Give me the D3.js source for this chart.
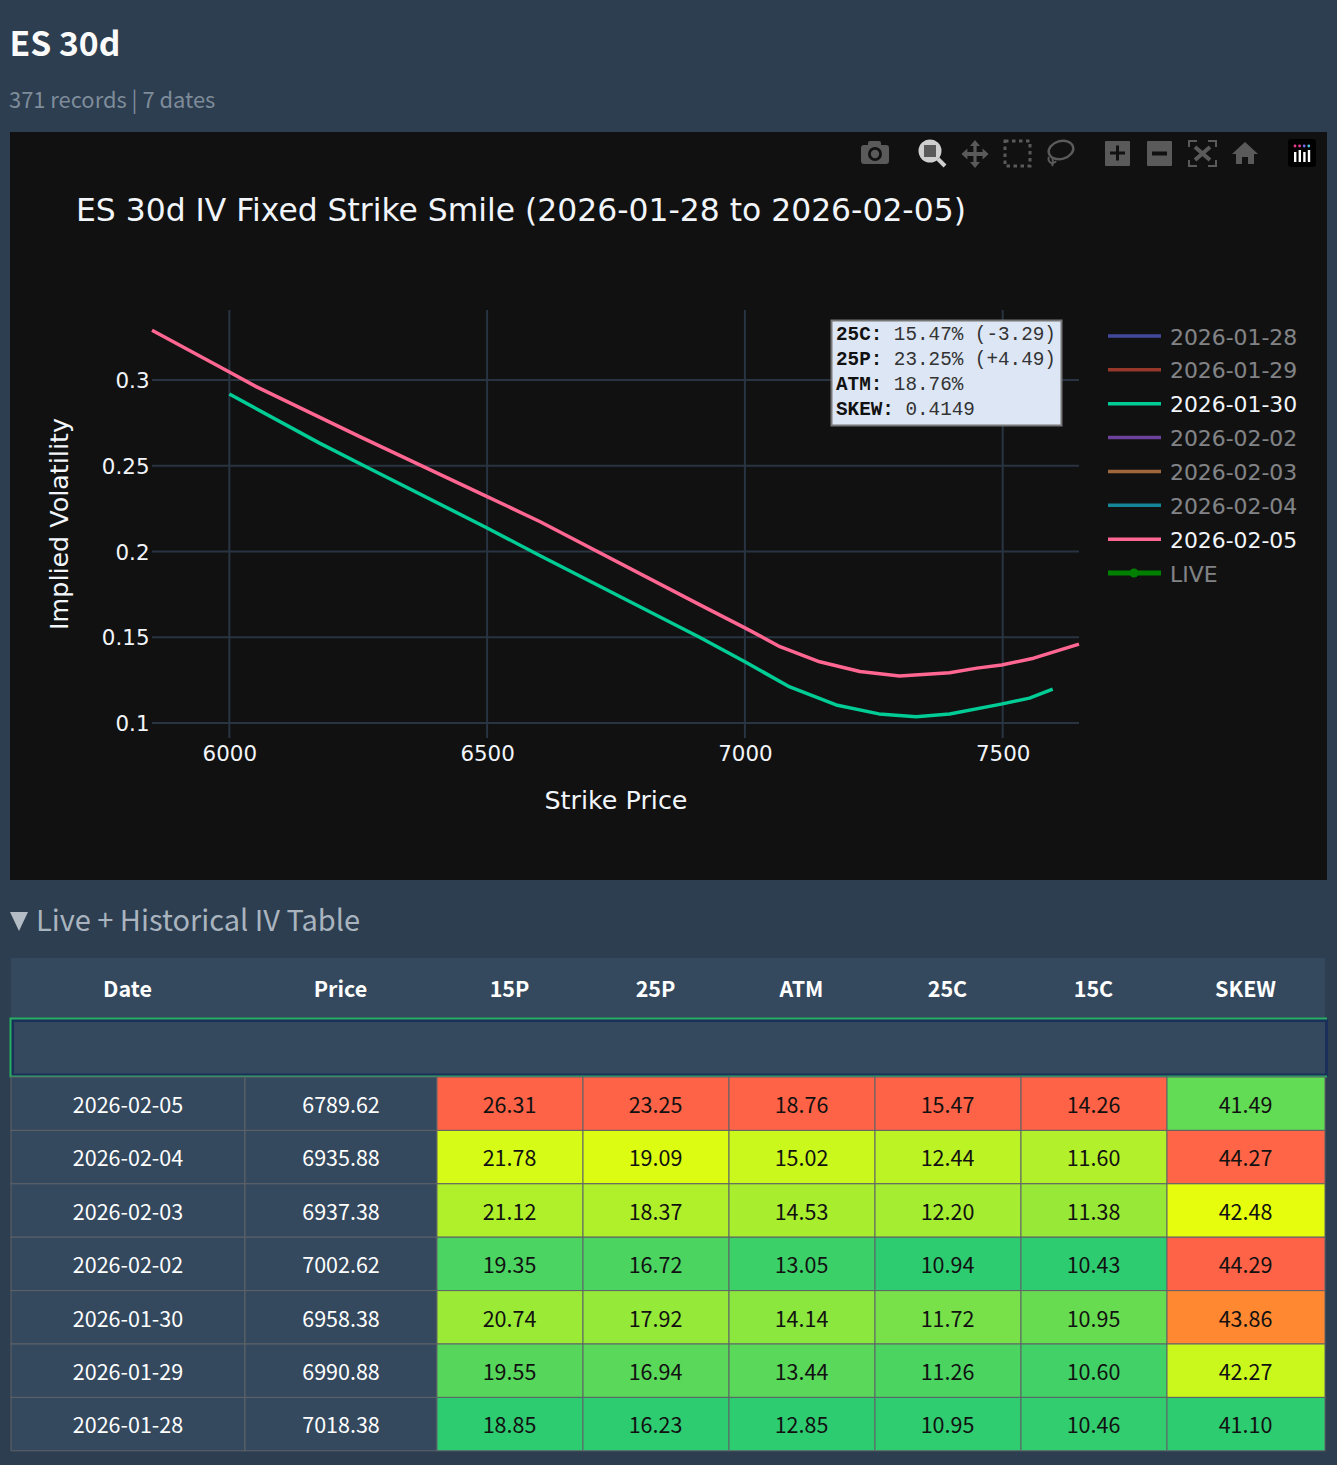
<!DOCTYPE html>
<html>
<head>
<meta charset="utf-8">
<script src="https://cdnjs.cloudflare.com/ajax/libs/d3/7.9.0/d3.min.js"></script>
<style>
html,body{margin:0;padding:0;background:#2c3e50;}
svg{display:block;}
</style>
</head>
<body>
<svg id="page" width="1337" height="1465"></svg>
<script>
// Legend entries and line colours for each session
const sessionDates = ["2026-01-28","2026-01-29","2026-01-30","2026-02-02","2026-02-03","2026-02-04","2026-02-05","LIVE"];
const sessionColors = ["#636efa","#ef553b","#00cc96","#ab63fa","#ffa15a","#19d3f3","#ff6692","#008000"];
const visibleSessions = ["2026-01-30","2026-02-05"];

// Fixed strike smiles
const strikesFeb05 = [5850,6000,6053,6253,6500,6602,6912,7000,7068,7145,7223,7300,7397,7450,7498,7560,7648];
const ivFeb05 = [0.329,0.3047,0.296,0.267,0.232,0.2175,0.169,0.1555,0.1445,0.1357,0.13,0.1274,0.1293,0.132,0.1338,0.1378,0.146];
const strikesJan30 = [6000,6175,6266,6500,6602,6912,7000,7087,7177,7260,7332,7397,7497,7552,7597];
const ivJan30 = [0.2918,0.2632,0.2493,0.2137,0.1977,0.15,0.1357,0.121,0.1105,0.1053,0.1037,0.1053,0.111,0.1145,0.1198];

const xTicks = [6000,6500,7000,7500];
const yTicks = [0.1,0.15,0.2,0.25,0.3];

// Summary box lines: label, value text
const noteLabels = ["25C:","25P:","ATM:","SKEW:"];
const noteValues = ["15.47% (-3.29)","23.25% (+4.49)","18.76%","0.4149"];

// IV table
const tableColumns = ["Date","Price","15P","25P","ATM","25C","15C","SKEW"];
const tableDates = ["2026-02-05","2026-02-04","2026-02-03","2026-02-02","2026-01-30","2026-01-29","2026-01-28"];
const tablePrices = ["6789.62","6935.88","6937.38","7002.62","6958.38","6990.88","7018.38"];
const col15P = [26.31,21.78,21.12,19.35,20.74,19.55,18.85];
const col25P = [23.25,19.09,18.37,16.72,17.92,16.94,16.23];
const colATM = [18.76,15.02,14.53,13.05,14.14,13.44,12.85];
const col25C = [15.47,12.44,12.20,10.94,11.72,11.26,10.95];
const col15C = [14.26,11.60,11.38,10.43,10.95,10.60,10.46];
const colSKEW = [41.49,44.27,42.48,44.29,43.86,42.27,41.10];
const heatColumns = [col15P,col25P,colATM,col25C,col15C,colSKEW];

const svg = d3.select("#page");
const pageFont = "'Noto Sans CJK SC','Noto Sans',sans-serif";
const plotFont = "'DejaVu Sans',sans-serif";
const monoFont = "'Liberation Mono',monospace";

svg.append("text").attr("x",9.5).attr("y",56).attr("font-family",pageFont).attr("font-weight",700)
  .attr("font-size",33.7).attr("fill","#fafafa").text("ES 30d");
svg.append("text").attr("x",9).attr("y",108).attr("font-family",pageFont)
  .attr("font-size",21.9).attr("fill","#7f8c9a").text("371 records | 7 dates");

// Plot panel
svg.append("rect").attr("x",10).attr("y",132).attr("width",1317).attr("height",748).attr("fill","#111111");

const x = d3.scaleLinear().domain([5850,7648]).range([152,1079]);
const y = d3.scaleLinear().domain([0.1,0.3]).range([723,380]);
const plot = svg.append("g");

const gridColor = "#283442";
plot.append("g").selectAll("line").data(xTicks).join("line")
  .attr("x1",d=>x(d)).attr("x2",d=>x(d)).attr("y1",310).attr("y2",738)
  .attr("stroke",gridColor).attr("stroke-width",2);
plot.append("g").selectAll("line").data(yTicks).join("line")
  .attr("x1",152).attr("x2",1079).attr("y1",d=>y(d)).attr("y2",d=>y(d))
  .attr("stroke",gridColor).attr("stroke-width",2);

const xAxis = plot.append("g").attr("transform","translate(0,739)")
  .call(d3.axisBottom(x).tickValues(xTicks).tickSize(0).tickPadding(7).tickFormat(d3.format("d")));
const yAxis = plot.append("g").attr("transform","translate(151.500,0.800)")
  .call(d3.axisLeft(y).tickValues(yTicks).tickSize(0).tickPadding(2).tickFormat(d=>String(d)));
[xAxis,yAxis].forEach(a=>{
  a.select(".domain").remove();
  a.selectAll("text").attr("font-family",plotFont).attr("font-size",21.4).attr("fill","#f2f5fa");
});

const line = d3.line().x(d=>x(d[0])).y(d=>y(d[1]));
function drawSmile(strikes,ivs,color){
  plot.append("path").datum(d3.zip(strikes,ivs)).attr("d",line)
    .attr("fill","none").attr("stroke",color).attr("stroke-width",3.5).attr("stroke-linejoin","round");
}
drawSmile(strikesJan30,ivJan30,sessionColors[2]);
drawSmile(strikesFeb05,ivFeb05,sessionColors[6]);

svg.append("text").attr("x",76).attr("y",221).attr("font-family",plotFont).attr("font-size",31.4)
  .attr("fill","#f2f5fa").text("ES 30d IV Fixed Strike Smile (2026-01-28 to 2026-02-05)");
svg.append("text").attr("x",616).attr("y",809).attr("text-anchor","middle").attr("font-family",plotFont)
  .attr("font-size",25.4).attr("fill","#f2f5fa").text("Strike Price");
svg.append("text").attr("transform","translate(68,524) rotate(-90)").attr("text-anchor","middle")
  .attr("font-family",plotFont).attr("font-size",25.4).attr("fill","#f2f5fa").text("Implied Volatility");

// Legend
const legendY = d3.scalePoint().domain(sessionDates).range([336,573]);
const legend = svg.append("g").selectAll("g").data(sessionDates).join("g")
  .attr("transform",d=>`translate(0,${legendY(d)})`);
legend.append("line").attr("x1",1108).attr("x2",1161).attr("y1",0).attr("y2",0)
  .attr("stroke",(d,i)=>sessionColors[i]).attr("stroke-width",d=>d==="LIVE"?5:3.5)
  .attr("opacity",d=>visibleSessions.includes(d)?1:d==="LIVE"?1:0.6);
legend.filter(d=>d==="LIVE").append("circle").attr("cx",1134).attr("cy",0).attr("r",4.5).attr("fill",sessionColors[7]);
legend.append("text").attr("x",1170).attr("y",8.500).attr("font-family",plotFont).attr("font-size",21.9)
  .attr("fill","#f2f5fa").attr("opacity",d=>visibleSessions.includes(d)?1:0.5).text(d=>d);

// Summary annotation box
svg.append("rect").attr("x",831.5).attr("y",320.5).attr("width",230).attr("height",105)
  .attr("fill","#dde6f5").attr("stroke","#777").attr("stroke-width",2);
noteLabels.forEach((lab,i)=>{
  const t = svg.append("text").attr("x",836).attr("y",339.5+i*25.3).attr("font-family",monoFont)
    .attr("font-size",19.3).attr("fill","#333").attr("xml:space","preserve");
  t.append("tspan").attr("font-weight",700).attr("fill","#111").text(lab);
  t.append("tspan").text(" "+noteValues[i]);
});

// Modebar icons, drawn as simple glyphs
const bar = svg.append("g").attr("fill","#5a5a5a").attr("stroke","none");
// camera
bar.append("rect").attr("x",861).attr("y",145).attr("width",28).attr("height",19).attr("rx",3);
bar.append("rect").attr("x",868).attr("y",141).attr("width",13).attr("height",6).attr("rx",2);
bar.append("circle").attr("cx",875).attr("cy",154).attr("r",7).attr("fill","#111");
bar.append("circle").attr("cx",875).attr("cy",154).attr("r",4.2);
// zoom (active)
bar.append("circle").attr("cx",930).attr("cy",151).attr("r",11.5).attr("fill","#cfcfcf");
bar.append("rect").attr("x",924).attr("y",145).attr("width",12).attr("height",12).attr("fill","#5a5a5a");
bar.append("line").attr("x1",938).attr("y1",159).attr("x2",945).attr("y2",166).attr("stroke","#cfcfcf").attr("stroke-width",4);
// pan
bar.append("path").attr("d","M975 140l5 6h-3.4v6h6v-3.4l6 5.4-6 5.4V156h-6v6h3.4l-5 6-5-6h3.4v-6h-6v3.4l-6-5.4 6-5.4V152h6v-6H970z");
// box select
bar.append("rect").attr("x",1005).attr("y",141).attr("width",25).attr("height",25).attr("fill","none")
  .attr("stroke","#5a5a5a").attr("stroke-width",3).attr("stroke-dasharray","3.5 3.5");
// lasso
bar.append("ellipse").attr("cx",1061).attr("cy",150).attr("rx",12.5).attr("ry",9).attr("fill","none")
  .attr("stroke","#5a5a5a").attr("stroke-width",2.4).attr("transform","rotate(-15 1061 150)");
bar.append("path").attr("d","M1052 157q2 5 0 9M1049 157a4 4 0 1 0 7 4").attr("fill","none").attr("stroke","#5a5a5a").attr("stroke-width",2);
// zoom in / out
bar.append("rect").attr("x",1105).attr("y",141).attr("width",25).attr("height",25).attr("rx",1);
bar.append("path").attr("d","M1110 151.500h6v-6h3v6h6v3h-6v6h-3v-6h-6z").attr("fill","#111");
bar.append("rect").attr("x",1147).attr("y",141).attr("width",25).attr("height",25).attr("rx",1);
bar.append("rect").attr("x",1152).attr("y",151.5).attr("width",15).attr("height",4).attr("fill","#111");
// autoscale
bar.append("path").attr("d","M1189 147v-6h8M1208 141h8v6M1216 160v6h-8M1197 166h-8v-6").attr("fill","none").attr("stroke","#5a5a5a").attr("stroke-width",2);
bar.append("path").attr("d","M1195 147l15 13M1210 147l-15 13").attr("fill","none").attr("stroke","#5a5a5a").attr("stroke-width",4);
// home
bar.append("path").attr("d","M1245 142l13 12h-4v10h-6v-7h-6v7h-6v-10h-4z");
// logo
svg.append("rect").attr("x",1288).attr("y",139).attr("width",28).attr("height",28).attr("rx",3).attr("fill","#000");
const logoDots = ["#e83e8c","#e83e8c","#7a6cf0","#4fc3d9"];
[0,1,2,3].forEach(i=>{
  svg.append("circle").attr("cx",1295+i*4.6).attr("cy",146).attr("r",1.4).attr("fill",logoDots[i]);
  svg.append("rect").attr("x",1294+i*4.6).attr("y",i%2?150:152).attr("width",2.4).attr("height",i%2?12:10).attr("fill","#fff");
});

// Section heading
svg.append("path").attr("d","M10 912H28L19 931Z").attr("fill","#b4bcc5");
svg.append("text").attr("x",36).attr("y",931).attr("font-family",pageFont).attr("font-size",29)
  .attr("fill","#aab4bf").text("Live + Historical IV Table");

// Table grid
const colEdges = [11,245,437,583,729,875,1021,1167,1325];
const rowTop = 1077, rowH = 53.4;
const rowScale = d3.scaleBand().domain(tableDates).range([rowTop,rowTop+rowH*7]);
const cellBg = "#34495e", cellLine = "#5f6268";

svg.append("rect").attr("x",11).attr("y",958).attr("width",1314).attr("height",119).attr("fill",cellBg);
svg.append("g").selectAll("text").data(tableColumns).join("text")
  .attr("x",(d,i)=>(colEdges[i]+colEdges[i+1])/2-0.5).attr("y",996.5).attr("text-anchor","middle")
  .attr("font-family",pageFont).attr("font-weight",700).attr("font-size",21.5).attr("fill","#ffffff").text(d=>d);

// Empty live row: navy cell outline inside a green row outline
svg.append("rect").attr("x",12.5).attr("y",1020.5).attr("width",1314).attr("height",54.5)
  .attr("fill",cellBg).attr("stroke","#1b2f5b").attr("stroke-width",3);
svg.append("path").attr("d","M1327 1018.500H10.500V1076.500H1327")
  .attr("fill","none").attr("stroke","#27ae60").attr("stroke-width",2);

// Heat colour runs over each column's own range
const heat = d3.scaleLinear().domain([0,0.43,0.85,1])
  .range(["#2ecc71","#e6ff0d","#ff8c2e","#ff6347"]).interpolate(d3.interpolateRgb);

tableDates.forEach((date,r)=>{
  const ry = rowScale(date);
  const g = svg.append("g");
  [0,1].forEach(c=>{
    g.append("rect").attr("x",colEdges[c]).attr("y",ry).attr("width",colEdges[c+1]-colEdges[c]).attr("height",rowH)
      .attr("fill",cellBg).attr("stroke",cellLine);
  });
  g.append("text").attr("x",(colEdges[0]+colEdges[1])/2).attr("y",ry+36).attr("text-anchor","middle")
    .attr("font-family",pageFont).attr("font-size",21.5).attr("fill","#fff").text(date);
  g.append("text").attr("x",(colEdges[1]+colEdges[2])/2).attr("y",ry+36).attr("text-anchor","middle")
    .attr("font-family",pageFont).attr("font-size",21.5).attr("fill","#fff").text(tablePrices[r]);
  heatColumns.forEach((col,c)=>{
    const [lo,hi] = d3.extent(col);
    g.append("rect").attr("x",colEdges[c+2]).attr("y",ry).attr("width",colEdges[c+3]-colEdges[c+2]).attr("height",rowH)
      .attr("fill",heat((col[r]-lo)/(hi-lo))).attr("stroke",cellLine);
    g.append("text").attr("x",(colEdges[c+2]+colEdges[c+3])/2-0.5).attr("y",ry+36).attr("text-anchor","middle")
      .attr("font-family",pageFont).attr("font-size",21.5).attr("fill","#111").text(col[r].toFixed(2));
  });
});
</script>
</body>
</html>
